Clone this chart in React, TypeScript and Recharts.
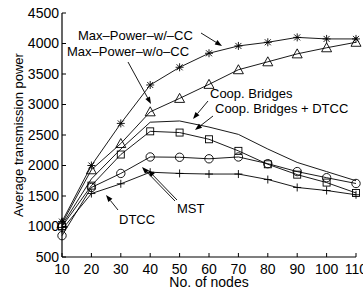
import React from "react";
import { LineChart, Line, XAxis, YAxis } from "recharts";

const nodes = [10, 20, 30, 40, 50, 60, 70, 80, 90, 100, 110];
const maxPowerCC = [1080, 2000, 2690, 3320, 3610, 3840, 3960, 4020, 4100, 4075, 4075];
const maxPowerNoCC = [1050, 1930, 2360, 2880, 3100, 3330, 3570, 3700, 3830, 3930, 4020];
const coopBridges = [1020, 1780, 2270, 2710, 2730, 2630, 2510, 2270, 2050, 1900, 1750];
const coopBridgesDTCC = [1000, 1670, 2180, 2560, 2540, 2430, 2240, 2020, 1850, 1720, 1550];
const mst = [850, 1640, 1870, 2140, 2135, 2110, 2140, 2030, 1900, 1800, 1705];
const dtcc = [950, 1540, 1700, 1890, 1870, 1860, 1860, 1770, 1640, 1590, 1520];

const xTicks = [10, 20, 30, 40, 50, 60, 70, 80, 90, 100, 110];
const yTicks = [500, 1000, 1500, 2000, 2500, 3000, 3500, 4000, 4500];

const data = nodes.map((n, i) => ({
  n,
  cc: maxPowerCC[i],
  nocc: maxPowerNoCC[i],
  coop: coopBridges[i],
  coopd: coopBridgesDTCC[i],
  mst: mst[i],
  dtcc: dtcc[i],
}));

const FONT = "'Liberation Sans', Arial, Helvetica, sans-serif";
const SW = 0.9;

type DotProps = { cx?: number; cy?: number };

const Star = ({ cx = 0, cy = 0 }: DotProps) => (
  <g stroke="#000" strokeWidth={SW}>
    <line x1={cx - 4} y1={cy} x2={cx + 4} y2={cy} />
    <line x1={cx} y1={cy - 4} x2={cx} y2={cy + 4} />
    <line x1={cx - 3} y1={cy - 3} x2={cx + 3} y2={cy + 3} />
    <line x1={cx - 3} y1={cy + 3} x2={cx + 3} y2={cy - 3} />
  </g>
);

const Tri = ({ cx = 0, cy = 0 }: DotProps) => (
  <polygon
    points={`${cx},${cy - 5} ${cx - 5},${cy + 4} ${cx + 5},${cy + 4}`}
    fill="none"
    stroke="#000"
    strokeWidth={SW}
  />
);

const Sq = ({ cx = 0, cy = 0 }: DotProps) => (
  <rect x={cx - 3.5} y={cy - 3.5} width={7} height={7} fill="none" stroke="#000" strokeWidth={SW} />
);

const Circ = ({ cx = 0, cy = 0 }: DotProps) => (
  <circle cx={cx} cy={cy} r={4.2} fill="none" stroke="#000" strokeWidth={SW} />
);

const Plus = ({ cx = 0, cy = 0 }: DotProps) => (
  <g stroke="#000" strokeWidth={SW}>
    <line x1={cx - 4} y1={cy} x2={cx + 4} y2={cy} />
    <line x1={cx} y1={cy - 4} x2={cx} y2={cy + 4} />
  </g>
);

function Arrow({ x1, y1, x2, y2 }: { x1: number; y1: number; x2: number; y2: number }) {
  const a = Math.atan2(y2 - y1, x2 - x1);
  const L = 7;
  const w = 2.6;
  const bx = x2 - L * Math.cos(a);
  const by = y2 - L * Math.sin(a);
  const px = -Math.sin(a) * w;
  const py = Math.cos(a) * w;
  return (
    <g>
      <line x1={x1} y1={y1} x2={bx} y2={by} stroke="#000" strokeWidth={0.9} />
      <polygon points={`${x2},${y2} ${bx + px},${by + py} ${bx - px},${by - py}`} fill="#000" />
    </g>
  );
}

const labels = [
  { text: "Max–Power–w/–CC", x: 78, y: 40 },
  { text: "Max–Power–w/o–CC", x: 67, y: 56 },
  { text: "Coop. Bridges", x: 210, y: 98 },
  { text: "Coop. Bridges + DTCC", x: 215, y: 113 },
  { text: "DTCC", x: 119, y: 224 },
  { text: "MST", x: 177, y: 213 },
];

const arrows = [
  { x1: 201, y1: 33, x2: 222, y2: 46 },
  { x1: 128, y1: 62, x2: 151, y2: 104 },
  { x1: 208, y1: 101, x2: 193, y2: 119 },
  { x1: 213, y1: 116, x2: 195, y2: 130 },
  { x1: 118, y1: 210, x2: 106, y2: 195 },
  { x1: 175, y1: 201, x2: 142, y2: 167 },
  { x1: 177, y1: 200, x2: 148, y2: 170 },
];

const tickStyle = { fill: "#000", fontSize: 14, fontFamily: FONT };

export default function App() {
  return (
    <div style={{ position: "absolute", left: 0, top: 0, width: 363, height: 293, background: "#fff" }}>
      <LineChart width={363} height={293} data={data} margin={{ top: 13, right: 7, bottom: 0, left: 0 }}>
        <XAxis
          xAxisId="b"
          dataKey="n"
          type="number"
          domain={[10, 110]}
          ticks={xTicks}
          height={36}
          interval={0}
          tickSize={-4}
          tickMargin={11}
          axisLine={{ stroke: "#000", strokeWidth: 1.2 }}
          tickLine={{ stroke: "#000" }}
          tick={tickStyle}
        />
        <XAxis
          xAxisId="t"
          orientation="top"
          dataKey="n"
          type="number"
          domain={[10, 110]}
          ticks={xTicks}
          height={0}
          interval={0}
          tickSize={-4}
          axisLine={{ stroke: "#000", strokeWidth: 1 }}
          tickLine={{ stroke: "#000" }}
          tick={false}
        />
        <YAxis
          yAxisId="l"
          type="number"
          domain={[500, 4500]}
          ticks={yTicks}
          width={62}
          interval={0}
          tickSize={-4}
          tickMargin={7}
          axisLine={{ stroke: "#000", strokeWidth: 1.2 }}
          tickLine={{ stroke: "#000" }}
          tick={tickStyle}
        />
        <YAxis
          yAxisId="r"
          orientation="right"
          type="number"
          domain={[500, 4500]}
          ticks={yTicks}
          width={0}
          interval={0}
          tickSize={-4}
          axisLine={{ stroke: "#000", strokeWidth: 1 }}
          tickLine={{ stroke: "#000" }}
          tick={false}
        />
        <Line xAxisId="b" yAxisId="l" dataKey="cc" stroke="#000" strokeWidth={SW} dot={<Star />} isAnimationActive={false} />
        <Line xAxisId="b" yAxisId="l" dataKey="nocc" stroke="#000" strokeWidth={SW} dot={<Tri />} isAnimationActive={false} />
        <Line xAxisId="b" yAxisId="l" dataKey="coop" stroke="#000" strokeWidth={SW} dot={false} isAnimationActive={false} />
        <Line xAxisId="b" yAxisId="l" dataKey="coopd" stroke="#000" strokeWidth={SW} dot={<Sq />} isAnimationActive={false} />
        <Line xAxisId="b" yAxisId="l" dataKey="mst" stroke="#000" strokeWidth={SW} dot={<Circ />} isAnimationActive={false} />
        <Line xAxisId="b" yAxisId="l" dataKey="dtcc" stroke="#000" strokeWidth={SW} dot={<Plus />} isAnimationActive={false} />
      </LineChart>
      <svg
        width={363}
        height={293}
        style={{ position: "absolute", left: 0, top: 0, pointerEvents: "none" }}
      >
        {labels.map((l) => (
          <text key={l.text} x={l.x} y={l.y} fontSize={13} fontFamily={FONT} fill="#000">
            {l.text}
          </text>
        ))}
        {arrows.map((a, i) => (
          <Arrow key={i} {...a} />
        ))}
        <text
          x={209}
          y={287}
          textAnchor="middle"
          fontSize={14}
          fontFamily={FONT}
          fill="#000"
        >
          No. of nodes
        </text>
        <text
          transform="translate(23,135) rotate(-90)"
          textAnchor="middle"
          fontSize={13}
          fontFamily={FONT}
          fill="#000"
        >
          Average transmission power
        </text>
      </svg>
    </div>
  );
}
